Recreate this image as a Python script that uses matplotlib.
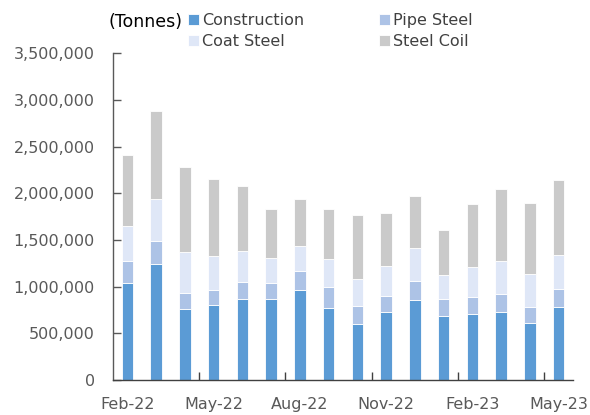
import matplotlib
matplotlib.use("Agg")
import matplotlib.pyplot as plt
import numpy as np

# monthly volumes, tonnes
months = ["Feb-22", "Mar-22", "Apr-22", "May-22", "Jun-22", "Jul-22", "Aug-22", "Sep-22",
          "Oct-22", "Nov-22", "Dec-22", "Jan-23", "Feb-23", "Mar-23", "Apr-23", "May-23"]
construction = [1042000, 1246000, 764000, 804000, 871000, 864000, 968000, 775000,
                603000, 732000, 861000, 689000, 711000, 732000, 614000, 786000]
pipe_steel = [233000, 243000, 168000, 157000, 183000, 175000, 196000, 225000,
              193000, 171000, 203000, 182000, 175000, 186000, 172000, 193000]
coat_steel = [378000, 450000, 439000, 368000, 332000, 272000, 272000, 296000,
              286000, 318000, 354000, 254000, 328000, 357000, 353000, 360000]
steel_coil = [761000, 943000, 907000, 821000, 689000, 521000, 500000, 536000,
              686000, 565000, 557000, 479000, 675000, 771000, 757000, 807000]

series = [("Construction", construction, "#5b9bd5"),
          ("Pipe Steel", pipe_steel, "#adc3e6"),
          ("Coat Steel", coat_steel, "#dfe7f7"),
          ("Steel Coil", steel_coil, "#cacaca")]

plt.rcParams['font.family'] = ['DejaVu Sans']
text_col = "#595959"

fig = plt.figure(figsize=(5.9, 4.15), dpi=100)
ax = fig.add_axes([0.1915, 0.0843, 0.7795, 0.7877])

x = np.arange(len(months))
bottom = np.zeros(len(months))
handles = []
for name, vals, col in series:
    b = ax.bar(x, vals, 0.4, bottom=bottom, color=col, edgecolor="white",
               linewidth=0.6, label=name)
    handles.append(b)
    bottom += np.array(vals)

ax.set_xlim(-0.5, len(months) - 0.5)
ax.set_ylim(0, 3500000)
ax.set_yticks(np.arange(0, 3500001, 500000))
ax.set_yticklabels([f"{v:,}" for v in range(0, 3500001, 500000)])
ax.tick_params(axis="y", direction="in", length=6, width=1, colors=text_col,
               labelsize=11.5, pad=13)

ax.set_xticks(x[::3])
ax.set_xticklabels(months[::3])
ax.tick_params(axis="x", which="major", length=0, colors=text_col, labelsize=11.5, pad=12)
ax.set_xticks(np.arange(2.5, len(months) - 1, 3), minor=True)
ax.tick_params(axis="x", which="minor", direction="in", length=6, width=1, color="#404040")

for s in ["top", "right"]:
    ax.spines[s].set_visible(False)
ax.spines["left"].set_color("#595959")
ax.spines["bottom"].set_color("#404040")
ax.spines["left"].set_linewidth(1)
ax.spines["bottom"].set_linewidth(1)

fig.text(109 / 590, 1 - 22 / 415, "(Tonnes)", fontsize=12.5, ha="left", va="center",
         color="black")

# legend in reading order: row1 Construction, Pipe Steel; row2 Coat Steel, Steel Coil
order = [0, 2, 1, 3]
leg = fig.legend([handles[i] for i in order], [series[i][0] for i in order],
                 ncol=2, loc="upper left", bbox_to_anchor=(188 / 590, 1 - 13 / 415),
                 frameon=False, fontsize=11.5, handlelength=0.66, handleheight=0.66,
                 handletextpad=0.22, columnspacing=4.7, labelspacing=0.38,
                 borderpad=0, borderaxespad=0)
for t in leg.get_texts():
    t.set_color("#404040")

fig.savefig("out.png", dpi=100)
